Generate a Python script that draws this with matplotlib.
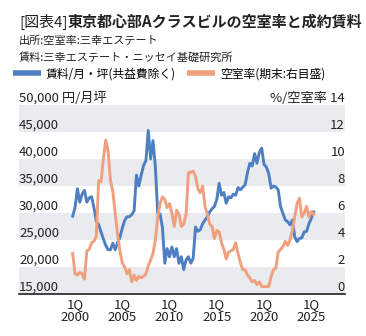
import matplotlib
matplotlib.use("Agg")
import matplotlib.pyplot as plt
from matplotlib.lines import Line2D

plt.rcParams["font.family"] = ["Noto Sans CJK JP", "DejaVu Sans"]

# quarterly series, first point = 4Q 1999
start_year = 1999.75
rent = [
    29400, 31000, 34500, 32000, 33500, 34200, 32000, 32800, 33000, 31000,
    28500, 27800, 26500, 25200, 24000, 23200, 23200, 24400, 23200, 24500,
    25500, 27200, 28600, 29300, 29300, 29700, 30400, 37000, 35000, 37000,
    38800, 39700, 45300, 40000, 43400, 38600, 30000, 29800, 27300, 20700,
    23400, 21900, 23700, 21900, 23400, 20700, 21900, 19500, 21300, 21900,
    20700, 21600, 27400, 26600, 26900, 28000, 28700, 29300, 30200, 30800,
    31200, 32500, 35500, 33300, 33800, 31800, 33000, 32800, 33500, 33300,
    34700, 34300, 34800, 35200, 37500, 39200, 38700, 41000, 39200, 41200,
    42000, 39000, 38500, 37300, 34600, 35000, 34800, 34300, 31200, 29900,
    28700, 28400, 27800, 28700, 25600, 24700, 25300, 25400, 26500, 26600,
    28000, 29000, 30200,
]
vacancy = [
    3.0, 1.5, 1.4, 1.6, 1.5, 1.1, 3.2, 3.3, 3.8, 3.9,
    4.3, 8.4, 8.3, 10.0, 11.4, 10.6, 8.4, 7.6, 6.0, 4.4,
    3.2, 2.3, 2.0, 1.5, 1.8, 0.9, 1.4, 1.0, 1.3, 1.2,
    1.3, 1.5, 2.1, 2.5, 3.0, 4.0, 5.7, 6.7, 7.2, 7.0,
    6.4, 6.7, 6.0, 5.0, 6.2, 5.9, 5.0, 5.2, 5.9, 9.0,
    9.0, 9.1, 8.7, 7.8, 7.5, 8.0, 6.5, 5.9, 5.2, 5.0,
    4.1, 4.7, 4.6, 3.8, 3.3, 2.6, 3.1, 3.2, 3.3, 3.8,
    3.0, 2.3, 1.8, 1.8, 1.4, 1.2, 0.9, 1.0, 0.7, 0.9,
    0.55, 0.55, 0.55, 0.55, 1.3, 1.8, 1.9, 3.1, 3.3, 3.5,
    3.9, 3.6, 4.0, 4.7, 5.7, 6.7, 7.1, 5.7, 6.0, 6.5,
    5.7, 6.1, 5.9,
]
tick_years = [2000, 2005, 2010, 2015, 2020, 2025]
rent_ticks = [15000, 20000, 25000, 30000, 35000, 40000, 45000, 50000]
vac_ticks = [0, 2, 4, 6, 8, 10, 12, 14]

BLUE = "#4e7fc3"
ORANGE = "#f0a07e"
BAND = "#e9ebef"
TXT = "#222222"

W, H = 366, 336
fig = plt.figure(figsize=(W / 100, H / 100), dpi=100)
ax = fig.add_axes([19 / W, 42 / H, 326 / W, 189 / H])
ax2 = ax.twinx()

xs = [start_year + 0.25 * i for i in range(len(rent))]

# alternating grey bands
for lo in rent_ticks[:-1:2]:
    ax.axhspan(lo, lo + 5000, color=BAND, lw=0, zorder=0)

ax.plot(xs, rent, color=BLUE, lw=2.1, zorder=3, solid_joinstyle="round")
ax2.plot(xs, vacancy, color=ORANGE, lw=2.1, zorder=3, solid_joinstyle="round")

ax.set_xlim(1994.07, 2028.57)
ax.set_ylim(15000, 50000)
ax2.set_ylim(0, 14)

for a in (ax, ax2):
    for s in a.spines.values():
        s.set_visible(False)
    a.set_yticks([])
ax.spines["bottom"].set_visible(True)
ax.spines["bottom"].set_color(TXT)
ax.spines["bottom"].set_linewidth(1.2)

ax.set_xticks(tick_years)
ax.set_xticklabels([f"1Q\n{y}" for y in tick_years], fontsize=9.5,
                   color=TXT, linespacing=0.95)
ax.tick_params(axis="x", length=0, pad=3)

# y labels sit just above their gridline, inside the plot
for v in rent_ticks:
    lab = f"{v:,}"
    if v == rent_ticks[-1]:
        lab += " 円/月坪"
    ax.text(0.0, v, lab, transform=ax.get_yaxis_transform(), ha="left",
            va="bottom", fontsize=9.5, color=TXT, clip_on=False, zorder=5)
for v in vac_ticks:
    lab = str(v)
    if v == vac_ticks[-1]:
        lab = "%/空室率 " + lab
    ax2.text(1.0, v, lab, transform=ax2.get_yaxis_transform(), ha="right",
             va="bottom", fontsize=9.5, color=TXT, clip_on=False, zorder=5)

# title: bracket part regular, rest bold
t1 = fig.text(19 / W, 1 - 22 / H, "[図表4]", fontsize=10.8, color=TXT,
              va="center", ha="left")
fig.canvas.draw()
bb = t1.get_window_extent(fig.canvas.get_renderer())
fig.text(bb.x1 / fig.bbox.width, 1 - 22 / H,
         "東京都心部Aクラスビルの空室率と成約賃料", fontsize=10.8,
         fontweight="bold", color=TXT, va="center", ha="left")
fig.text(19 / W, 1 - 41 / H, "出所:空室率:三幸エステート", fontsize=8,
         color=TXT, va="center", ha="left")
fig.text(19 / W, 1 - 57 / H, "賃料:三幸エステート・ニッセイ基礎研究所",
         fontsize=8, color=TXT, va="center", ha="left")

handles = [Line2D([], [], color=BLUE, lw=4, solid_capstyle="butt"),
           Line2D([], [], color=ORANGE, lw=4, solid_capstyle="butt")]
fig.legend(handles, ["賃料/月・坪(共益費除く)", "空室率(期末:右目盛)"],
           loc="center left", bbox_to_anchor=(13 / W, 1 - 74 / H), ncol=2,
           frameon=False, fontsize=8.5, handlelength=2.4, handletextpad=0.4,
           columnspacing=0.9, borderpad=0, borderaxespad=0)

fig.savefig("out.png", dpi=100)
